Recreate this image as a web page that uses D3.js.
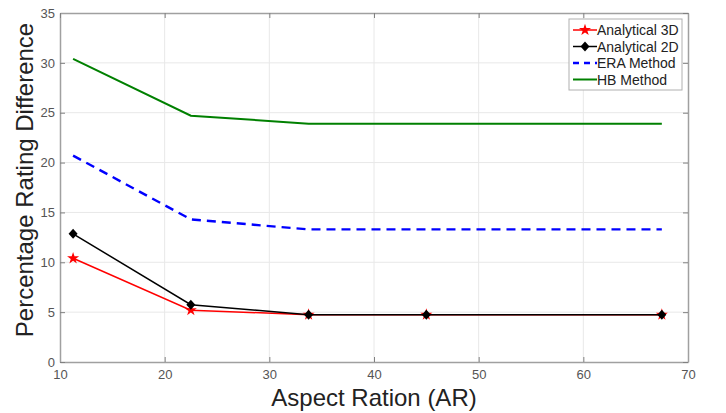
<!DOCTYPE html>
<html>
<head>
<meta charset="utf-8">
<script src="https://cdn.jsdelivr.net/npm/d3@7"></script>
<style>
  body { margin: 0; background: #fff; }
  text { font-family: "Liberation Sans", Arial, sans-serif; }
</style>
</head>
<body>
<svg id="chart" width="726" height="413"></svg>
<script>
// Data
const aspectRatio = [11.25, 22.5, 33.75, 45, 67.5];
const analytical3D = [10.4, 5.2, 4.75, 4.75, 4.75];
const analytical2D = [12.85, 5.75, 4.75, 4.75, 4.75];
const eraMethod = [20.7, 14.3, 13.3, 13.3, 13.3];
const hbMethod = [30.4, 24.7, 23.9, 23.9, 23.9];
const xTicks = [10, 20, 30, 40, 50, 60, 70];
const yTicks = [0, 5, 10, 15, 20, 25, 30, 35];

const series = [
  { name: 'Analytical 3D', values: analytical3D, color: '#ff0000', dash: null, marker: 'star' },
  { name: 'Analytical 2D', values: analytical2D, color: '#000000', dash: null, marker: 'diamond' },
  { name: 'ERA Method', values: eraMethod, color: '#0000ff', dash: '9,6', marker: null, width: 2.4 },
  { name: 'HB Method', values: hbMethod, color: '#008000', dash: null, marker: null, width: 2 },
];

const svg = d3.select('#chart');
const margin = { left: 60, right: 38, top: 13, bottom: 51 };
const width = 726, height = 413;

const x = d3.scaleLinear().domain([10, 70]).range([margin.left, width - margin.right]);
const y = d3.scaleLinear().domain([0, 35]).range([height - margin.bottom, margin.top]);

// grid
const grid = svg.append('g');
grid.selectAll('.vg').data(xTicks.slice(1, -1)).enter().append('line')
  .attr('x1', d => x(d)).attr('x2', d => x(d))
  .attr('y1', y(0)).attr('y2', y(35))
  .attr('stroke', '#e8e8e8').attr('stroke-width', 1);
grid.selectAll('.hg').data(yTicks.slice(1, -1)).enter().append('line')
  .attr('x1', x(10)).attr('x2', x(70))
  .attr('y1', d => y(d)).attr('y2', d => y(d))
  .attr('stroke', '#e8e8e8').attr('stroke-width', 1);

// axes (MATLAB style: ticks inside, box)
const xAxis = svg.append('g')
  .attr('transform', `translate(0,${y(0)})`)
  .call(d3.axisBottom(x).tickValues(xTicks).tickSizeInner(-5).tickSizeOuter(0).tickPadding(8));
const yAxis = svg.append('g')
  .attr('transform', `translate(${x(10)},0)`)
  .call(d3.axisLeft(y).tickValues(yTicks).tickSizeInner(-5).tickSizeOuter(0).tickPadding(5));
[xAxis, yAxis].forEach(g => {
  g.select('.domain').attr('stroke', '#a0a0a0').attr('stroke-width', 1.5);
  g.selectAll('.tick line').attr('stroke', '#808080');
  g.selectAll('.tick text').attr('fill', '#555').style('font-size', '13px')
    .style('font-family', '"Liberation Sans", Arial, sans-serif');
});
// top/right box lines with inward ticks
const xTop = svg.append('g')
  .attr('transform', `translate(0,${y(35)})`)
  .call(d3.axisTop(x).tickValues(xTicks).tickSizeInner(-5).tickSizeOuter(0).tickFormat(''));
const yRight = svg.append('g')
  .attr('transform', `translate(${x(70)},0)`)
  .call(d3.axisRight(y).tickValues(yTicks).tickSizeInner(-5).tickSizeOuter(0).tickFormat(''));
[xTop, yRight].forEach(g => {
  g.select('.domain').attr('stroke', '#a0a0a0').attr('stroke-width', 1.5);
  g.selectAll('.tick line').attr('stroke', '#808080');
});

// markers
const starSym = d3.symbol().type(d3.symbolStar).size(45);
const diamondPath = 'M0,-5L4.5,0L0,5L-4.5,0Z';
const markerPath = m => (m === 'star' ? starSym() : diamondPath);

// lines + markers, drawn in series order (later on top)
const line = d3.line().x((d, i) => x(aspectRatio[i])).y(d => y(d));
series.forEach(s => {
  svg.append('path')
    .datum(s.values)
    .attr('fill', 'none')
    .attr('stroke', s.color)
    .attr('stroke-width', s.width || 1.5)
    .attr('stroke-dasharray', s.dash)
    .attr('d', line);
  if (s.marker) {
    svg.append('g').selectAll('path').data(s.values).enter().append('path')
      .attr('transform', (d, i) => `translate(${x(aspectRatio[i])},${y(d)})`)
      .attr('d', markerPath(s.marker))
      .attr('fill', s.color);
  }
});

// axis titles
svg.append('text')
  .attr('x', (x(10) + x(70)) / 2).attr('y', 406)
  .attr('text-anchor', 'middle')
  .style('font-size', '24px').attr('fill', '#222')
  .text('Aspect Ration (AR)');
svg.append('text')
  .attr('transform', 'translate(33,180) rotate(-90)')
  .attr('text-anchor', 'middle')
  .style('font-size', '24px').attr('fill', '#222')
  .text('Percentage Rating Difference');

// legend
const lg = svg.append('g').attr('transform', 'translate(569,19)');
lg.append('rect').attr('width', 113).attr('height', 71)
  .attr('fill', '#fff').attr('stroke', '#b0b0b0').attr('stroke-width', 1);
series.forEach((s, i) => {
  const cy = 11 + i * 16.5;
  lg.append('line').attr('x1', 4).attr('x2', 28).attr('y1', cy).attr('y2', cy)
    .attr('stroke', s.color).attr('stroke-width', s.width || 1.5)
    .attr('stroke-dasharray', s.dash ? '6,5' : null);
  if (s.marker) {
    lg.append('path').attr('transform', `translate(16,${cy})`)
      .attr('d', markerPath(s.marker)).attr('fill', s.color);
  }
  lg.append('text').attr('x', 28).attr('y', cy + 5)
    .style('font-size', '14px').attr('fill', '#222').text(s.name);
});
</script>
</body>
</html>
